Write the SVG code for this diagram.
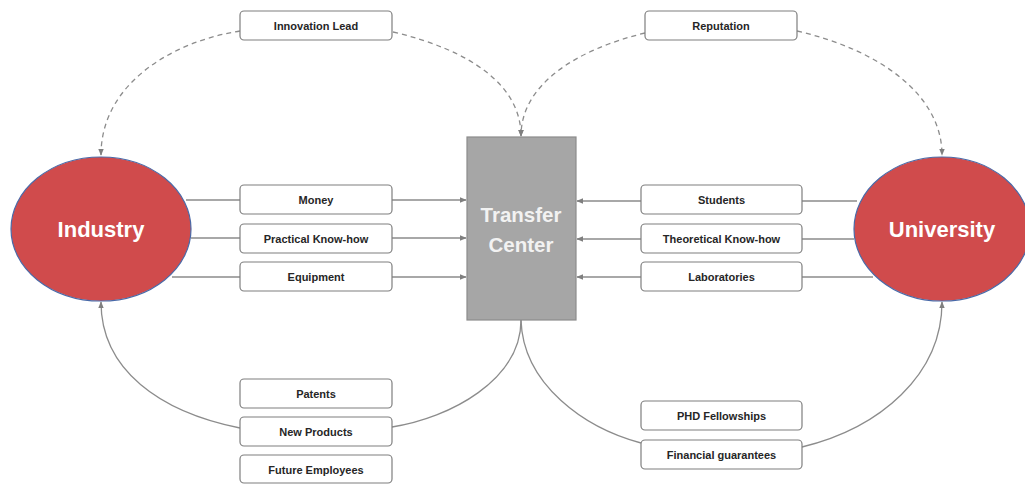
<svg xmlns="http://www.w3.org/2000/svg" width="1025" height="484" viewBox="0 0 1025 484">
<defs>
<marker id="ah" viewBox="0 0 10 10" refX="9" refY="5" markerWidth="7" markerHeight="7" markerUnits="userSpaceOnUse" orient="auto">
<path d="M0,1 L10,5 L0,9 z" fill="#7f7f7f"/>
</marker>
</defs>
<style>
.box{fill:#ffffff;stroke:#7f7f7f;stroke-width:1.2}
.lbl{font-family:"Liberation Sans",Arial,sans-serif;font-weight:bold;font-size:11px;fill:#262626;text-anchor:middle}
.big{font-family:"Liberation Sans",Arial,sans-serif;font-weight:bold;font-size:22px;fill:#ffffff;text-anchor:middle}
.ln{fill:none;stroke:#8c8c8c;stroke-width:1.3}
.dash{fill:none;stroke:#8c8c8c;stroke-width:1.3;stroke-dasharray:5 4}
</style>
<rect width="1025" height="484" fill="#ffffff"/>
<g id="connectors">
<path class="dash" d="M240,31 C170,42 101,85 101,155" marker-end="url(#ah)"/>
<path class="dash" d="M393,32 C470,50 521,85 521,136" marker-end="url(#ah)"/>
<path class="dash" d="M645,33 C575,50 521,85 521,136" marker-end="url(#ah)"/>
<path class="dash" d="M797,31 C880,50 942,95 942,155" marker-end="url(#ah)"/>
<path class="ln" d="M186,200 L240,200 M392,200 L466,200" marker-end="url(#ah)"/>
<path class="ln" d="M191,238 L240,238 M392,238 L466,238" marker-end="url(#ah)"/>
<path class="ln" d="M172,277 L240,277 M392,277 L466,277" marker-end="url(#ah)"/>
<path class="ln" d="M857,201 L802,201 M641,201 L577,201" marker-end="url(#ah)"/>
<path class="ln" d="M854,239 L802,239 M641,239 L577,239" marker-end="url(#ah)"/>
<path class="ln" d="M873,277 L802,277 M641,277 L577,277" marker-end="url(#ah)"/>
<path class="ln" d="M521,320 C521,380 450,418 392,427"/>
<path class="ln" d="M240,428 C160,412 101,370 101,302" marker-end="url(#ah)"/>
<path class="ln" d="M521,320 C523,385 585,428 641,443"/>
<path class="ln" d="M802,447 C880,428 942,375 942,302" marker-end="url(#ah)"/>
</g>
<g id="industry">
<ellipse cx="101" cy="229" rx="90" ry="72" fill="#d04b4c" stroke="#4a6aa8" stroke-width="1.2"/>
<text class="big" x="101" y="237">Industry</text>
</g>
<g id="university">
<ellipse cx="942" cy="229" rx="88" ry="72" fill="#d04b4c" stroke="#4a6aa8" stroke-width="1.2"/>
<text class="big" x="942" y="237">University</text>
</g>
<g id="transfer-center">
<rect x="467" y="137" width="109" height="183" fill="#a6a6a6" stroke="#8c8c8c" stroke-width="1.2"/>
<text class="big" x="521" y="222" font-size="20.5" fill="#f2f2f2" style="font-size:20.5px;fill:#f2f2f2">Transfer</text>
<text class="big" x="521" y="252" style="font-size:20.5px;fill:#f2f2f2">Center</text>
</g>
<g id="innovation-lead"><rect class="box" x="240" y="11" width="152" height="29" rx="4"/><text class="lbl" x="316" y="29.5">Innovation Lead</text></g>
<g id="reputation"><rect class="box" x="645" y="11" width="152" height="29" rx="4"/><text class="lbl" x="721" y="29.5">Reputation</text></g>
<g id="money"><rect class="box" x="240" y="185" width="152" height="29" rx="4"/><text class="lbl" x="316" y="203.5">Money</text></g>
<g id="practical"><rect class="box" x="240" y="224" width="152" height="29" rx="4"/><text class="lbl" x="316" y="242.5">Practical Know-how</text></g>
<g id="equipment"><rect class="box" x="240" y="262" width="152" height="29" rx="4"/><text class="lbl" x="316" y="280.5">Equipment</text></g>
<g id="students"><rect class="box" x="641" y="185" width="161" height="29" rx="4"/><text class="lbl" x="721.5" y="203.5">Students</text></g>
<g id="theoretical"><rect class="box" x="641" y="224" width="161" height="29" rx="4"/><text class="lbl" x="721.5" y="242.5">Theoretical Know-how</text></g>
<g id="laboratories"><rect class="box" x="641" y="262" width="161" height="29" rx="4"/><text class="lbl" x="721.5" y="280.5">Laboratories</text></g>
<g id="patents"><rect class="box" x="240" y="379" width="152" height="29" rx="4"/><text class="lbl" x="316" y="397.5">Patents</text></g>
<g id="new-products"><rect class="box" x="240" y="417" width="152" height="29" rx="4"/><text class="lbl" x="316" y="435.5">New Products</text></g>
<g id="future-employees"><rect class="box" x="240" y="455" width="152" height="28" rx="4"/><text class="lbl" x="316" y="473.5">Future Employees</text></g>
<g id="phd"><rect class="box" x="641" y="401" width="161" height="29" rx="4"/><text class="lbl" x="721.5" y="419.5">PHD Fellowships</text></g>
<g id="financial"><rect class="box" x="641" y="440" width="161" height="29" rx="4"/><text class="lbl" x="721.5" y="458.5">Financial guarantees</text></g>
</svg>
